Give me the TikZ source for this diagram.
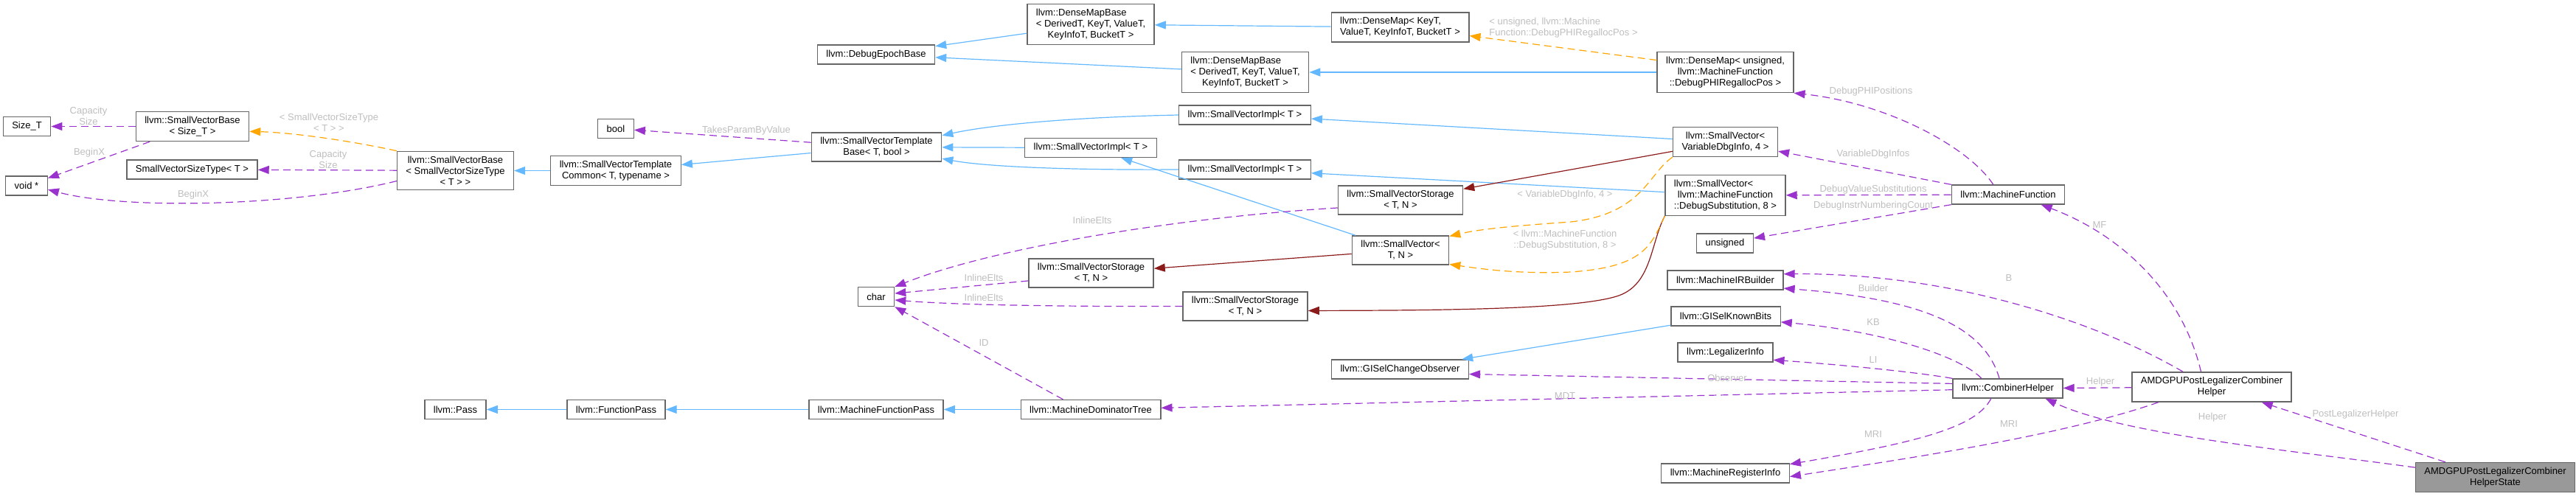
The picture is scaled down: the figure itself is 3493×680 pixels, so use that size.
\documentclass[tikz,border=0pt]{standalone}
\usepackage{fontspec}
\setmainfont{Liberation Sans}
\usepackage{tikz}
\usetikzlibrary{arrows.meta}
\usepackage{xcolor}
\definecolor{inhblue}{HTML}{63B8FF}
\definecolor{usepurple}{HTML}{9A32CD}
\definecolor{tplorange}{HTML}{FFA500}
\definecolor{protred}{HTML}{8B1A1A}
\definecolor{boxgrey}{HTML}{666666}
\definecolor{rootgrey}{HTML}{999999}
\definecolor{lblgrey}{HTML}{BEBEBE}
\newcommand{\leftln}[2]{\makebox[0pt][l]{#1}\phantom{#2}}

\begin{document}
\begin{tikzpicture}[x=1pt, y=-1pt,
    cls/.style={rectangle, draw=boxgrey, line width=1.3pt, fill=white,
        font=\fontsize{13}{15}\selectfont, align=center,
        inner xsep=12pt, inner ysep=6.5pt, minimum height=26pt},
    root/.style={cls, fill=rootgrey},
    lbl/.style={font=\fontsize{13}{15}\selectfont, text=lblgrey, align=center, inner sep=0pt},
    inh/.style={-{Triangle[length=15pt,width=11pt]}, line width=1.2pt, inhblue},
    prot/.style={-{Triangle[length=15pt,width=11pt]}, line width=1.2pt, protred},
    tpl/.style={-{Triangle[length=15pt,width=11pt]}, line width=1.2pt, tplorange,
        dash pattern=on 10pt off 6pt},
    usage/.style={-{Triangle[length=15pt,width=11pt]}, line width=1.2pt, usepurple,
        dash pattern=on 10pt off 6pt}
]
    \useasboundingbox (0,0) rectangle (3493,680);

    \node[cls] (sizet) at (36.5,171.5) {Size\_T};
    \node[cls] (svbsize) at (261,171.5) {llvm::SmallVectorBase\\< Size\_T >};
    \node[cls] (voidp) at (36,252) {void *};
    \node[cls] (svst) at (260.5,230) {SmallVectorSizeType< T >};
    \node[cls] (svbsvst) at (617.5,231.5) {llvm::SmallVectorBase\\< SmallVectorSizeType\\< T > >};
    \node[cls] (bool) at (835,174.5) {bool};
    \node[cls] (svtc) at (835,231.5) {llvm::SmallVectorTemplate\\Common< T, typename >};
    \node[cls] (svtb) at (1188.5,199.5) {llvm::SmallVectorTemplate\\Base< T, bool >};
    \node[cls] (char) at (1188,402.5) {char};
    \node[cls] (debugepoch) at (1188,74) {llvm::DebugEpochBase};
    \node[cls] (dmb1) at (1479,33) {\leftln{llvm::DenseMapBase}{< DerivedT, KeyT, ValueT,}\\< DerivedT, KeyT, ValueT,\\KeyInfoT, BucketT >};
    \node[cls] (dmb2) at (1688.5,98) {\leftln{llvm::DenseMapBase}{< DerivedT, KeyT, ValueT,}\\< DerivedT, KeyT, ValueT,\\KeyInfoT, BucketT >};
    \node[cls] (svia) at (1688,156) {llvm::SmallVectorImpl< T >};
    \node[cls] (svib) at (1479,200.5) {llvm::SmallVectorImpl< T >};
    \node[cls] (svic) at (1688,230) {llvm::SmallVectorImpl< T >};
    \node[cls] (svsb) at (1479.5,370.5) {llvm::SmallVectorStorage\\< T, N >};
    \node[cls] (svsc) at (1688.5,415.5) {llvm::SmallVectorStorage\\< T, N >};
    \node[cls] (pass) at (617.5,555.5) {llvm::Pass};
    \node[cls] (fpass) at (835.5,555.5) {llvm::FunctionPass};
    \node[cls] (mfpass) at (1188,555.5) {llvm::MachineFunctionPass};
    \node[cls] (mdt) at (1479,555.5) {llvm::MachineDominatorTree};
    \node[cls] (densemap) at (1898.5,37) {\leftln{llvm::DenseMap< KeyT,}{ValueT, KeyInfoT, BucketT >}\\ValueT, KeyInfoT, BucketT >};
    \node[cls] (svsa) at (1899,271.5) {llvm::SmallVectorStorage\\< T, N >};
    \node[cls] (svtn) at (1899,339.5) {llvm::SmallVector<\\T, N >};
    \node[cls] (gsco) at (1898.5,501) {llvm::GISelChangeObserver};
    \node[cls] (dmunsigned) at (2339.5,98) {llvm::DenseMap< unsigned,\\llvm::MachineFunction\\::DebugPHIRegallocPos >};
    \node[cls] (svvdi) at (2339.5,192.5) {llvm::SmallVector<\\VariableDbgInfo, 4 >};
    \node[cls] (svds) at (2339.5,265) {\leftln{llvm::SmallVector<}{::DebugSubstitution, 8 >}\\llvm::MachineFunction\\::DebugSubstitution, 8 >};
    \node[cls] (unsigned) at (2339,330) {unsigned};
    \node[cls] (mirb) at (2339.5,380) {llvm::MachineIRBuilder};
    \node[cls] (gskb) at (2340,429) {llvm::GISelKnownBits};
    \node[cls] (li) at (2339.5,478) {llvm::LegalizerInfo};
    \node[cls] (mri) at (2339.5,642) {llvm::MachineRegisterInfo};
    \node[cls] (mf) at (2723,264) {llvm::MachineFunction};
    \node[cls] (ch) at (2722.5,527) {llvm::CombinerHelper};
    \node[cls] (plch) at (2999,525) {AMDGPUPostLegalizerCombiner\\Helper};
    \node[root] (state) at (3383.5,647.5) {AMDGPUPostLegalizerCombiner\\HelperState};

    \draw[inh] (dmb1) -- (debugepoch);
    \draw[inh] (dmb2) -- (debugepoch);
    \draw[inh] (densemap) -- (dmb1);
    \draw[inh] (dmunsigned) -- (dmb2);
    \draw[inh] (svia.west) .. controls (1450,159) and (1340,170) .. (svtb.10);
    \draw[inh] (svib) -- (svtb);
    \draw[inh] (svic.west) .. controls (1430,231) and (1330,225) .. (svtb.-10);
    \draw[inh] (svvdi) -- (svia);
    \draw[inh] (svds) -- (svic);
    \draw[inh] (svtn) -- (svib);
    \draw[inh] (svtb) -- (svtc);
    \draw[inh] (svtc) -- (svbsvst);
    \draw[inh] (fpass) -- (pass);
    \draw[inh] (mfpass) -- (fpass);
    \draw[inh] (mdt) -- (mfpass);
    \draw[inh] (gskb) -- (gsco);

    \draw[prot] (svvdi) -- (svsa);
    \draw[prot] (svtn) -- (svsb);
    \draw[prot] (svds.south west) .. controls (2238,330) and (2240,385) .. (2195,401)
        .. controls (2140,420) and (1950,421) .. (svsc.-4);

    \draw[tpl] (svbsvst.north west) .. controls (480,192) and (400,180) .. (svbsize.-5);
    \draw[tpl] (dmunsigned.170) -- (densemap.-7);
    \draw[tpl] (svvdi.south west) .. controls (2235,235) and (2228,290) .. (2130,301)
        .. controls (2060,306) and (2010,310) .. (svtn.16);
    \draw[tpl] (svds.south west) .. controls (2238,335) and (2228,362) .. (2130,369)
        .. controls (2060,372) and (2010,365) .. (svtn.-16);

    \draw[usage] (svbsize) -- (sizet);
    \draw[usage] (svbsize) -- (voidp);
    \draw[usage] (svbsvst) -- (svst);
    \draw[usage] (svbsvst.-170) .. controls (400,280) and (170,285) .. (voidp.-10);
    \draw[usage] (svtb) -- (bool);
    \draw[usage] (svsa.-173) .. controls (1600,295) and (1350,335) .. (char.28);
    \draw[usage] (svsb.-173) -- (char.10);
    \draw[usage] (svsc.west) .. controls (1450,416) and (1300,414) .. (char.-10);
    \draw[usage] (mdt.160) -- (char.south east);
    \draw[usage] (mf.146) .. controls (2670,200) and (2560,140) .. (dmunsigned.south east);
    \draw[usage] (mf.north west) -- (svvdi.-10);
    \draw[usage] (mf) -- (svds);
    \draw[usage] (mf.south west) -- (unsigned.10);
    \draw[usage] (ch.130) .. controls (2690,440) and (2600,405) .. (mirb.-8);
    \draw[usage] (ch.159) .. controls (2660,485) and (2560,450) .. (gskb.-6);
    \draw[usage] (ch.north west) .. controls (2600,505) and (2500,495) .. (li.-9);
    \draw[usage] (ch.175) -- (gsco.-4);
    \draw[usage] (ch) -- (mdt);
    \draw[usage] (ch.-149) .. controls (2680,580) and (2600,600) .. (mri.8);
    \draw[usage] (plch.152) .. controls (2850,440) and (2650,370) .. (mirb.6);
    \draw[usage] (plch.125) .. controls (2960,400) and (2880,320) .. (mf.-17);
    \draw[usage] (plch) -- (ch);
    \draw[usage] (plch.-164) .. controls (2800,590) and (2600,620) .. (mri.-3);
    \draw[usage] (state.173) .. controls (3100,610) and (2880,590) .. (ch.-15);
    \draw[usage] (state.163) -- (plch.-17);

    \node[lbl] (lcapa) at (120,157) {Capacity\\Size};
    \node[lbl] (lbega) at (121,207) {BeginX};
    \node[lbl] (lsvst) at (446,166) {< SmallVectorSizeType\\< T > >};
    \node[lbl] (lcapb) at (445,216) {Capacity\\Size};
    \node[lbl] (lbegb) at (262,264) {BeginX};
    \node[lbl] (ltakes) at (1012,177) {TakesParamByValue};
    \node[lbl] (linla) at (1481,299) {InlineElts};
    \node[lbl] (linlb) at (1334,377) {InlineElts};
    \node[lbl] (linlc) at (1334,404) {InlineElts};
    \node[lbl] (lid) at (1334,465) {ID};
    \node[lbl, align=left] (lphireg) at (2120,38) {< unsigned, llvm::Machine\\Function::DebugPHIRegallocPos >};
    \node[lbl] (lphipos) at (2537,124) {DebugPHIPositions};
    \node[lbl] (lvdinfos) at (2540,209) {VariableDbgInfos};
    \node[lbl] (lvalsub) at (2540,257) {DebugValueSubstitutions};
    \node[lbl] (lnumcnt) at (2540,279) {DebugInstrNumberingCount};
    \node[lbl] (lvdifour) at (2122,264) {< VariableDbgInfo, 4 >};
    \node[lbl] (ldseight) at (2122,326) {< llvm::MachineFunction\\::DebugSubstitution, 8 >};
    \node[lbl] (lbuilder) at (2540,391) {Builder};
    \node[lbl] (lkb) at (2540,437) {KB};
    \node[lbl] (lli) at (2540,488) {LI};
    \node[lbl] (lobs) at (2342,513) {Observer};
    \node[lbl] (lmdt) at (2122,537) {MDT};
    \node[lbl] (lmria) at (2540,589) {MRI};
    \node[lbl] (lb) at (2724,377) {B};
    \node[lbl] (lmf) at (2847,305) {MF};
    \node[lbl] (lhelpa) at (2848,518) {Helper};
    \node[lbl] (lmrib) at (2724,575) {MRI};
    \node[lbl] (lhelpb) at (3000,566) {Helper};
    \node[lbl] (lplh) at (3194,562) {PostLegalizerHelper};
\end{tikzpicture}
\end{document}
